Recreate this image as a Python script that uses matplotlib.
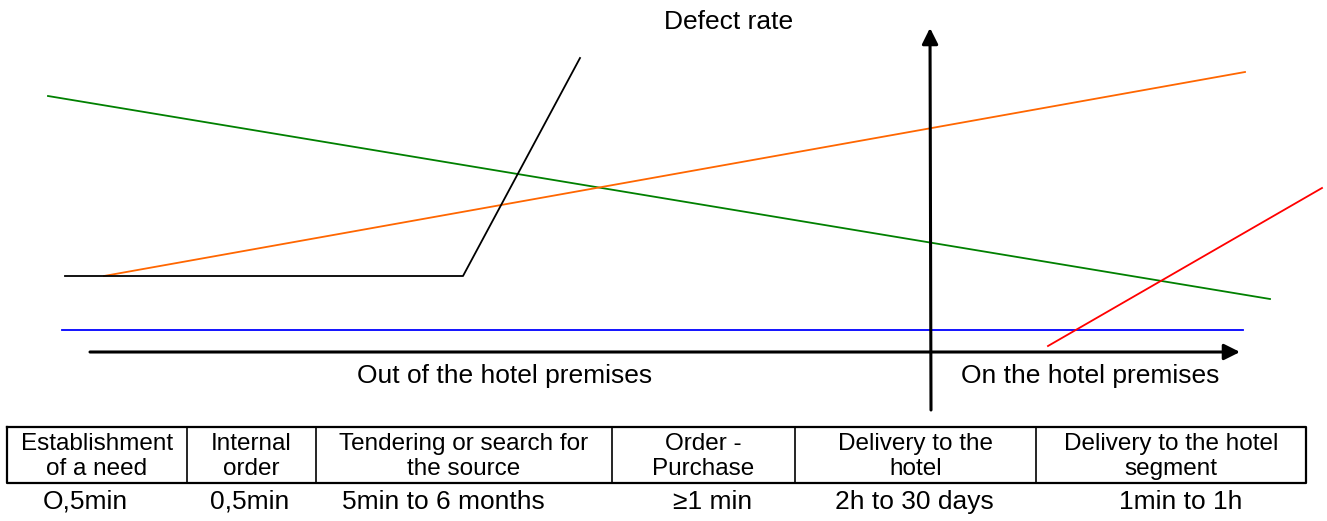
import matplotlib
matplotlib.use("Agg")
import matplotlib.pyplot as plt

plt.rcParams['font.family'] = ['Liberation Sans', 'DejaVu Sans']

# line endpoints in picture units (x right, y down)
green_x = [48, 1270]
green_y = [96, 299]
orange_x = [104, 1245]
orange_y = [276, 72]
black_x = [65, 463, 580]
black_y = [276, 276, 58]
blue_x = [62, 1243]
blue_y = [330, 330]
red_x = [1048, 1322]
red_y = [346, 188]

# table
col_edges = [7, 187, 316, 612, 795, 1036, 1306]
col_labels = ["Establishment\nof a need", "Internal\norder", "Tendering or search for\nthe source",
              "Order -\nPurchase", "Delivery to the\nhotel", "Delivery to the hotel\nsegment"]
durations = ["O,5min", "0,5min", "5min to 6 months", "\u22651 min", "2h to 30 days", "1min to 1h"]
duration_x = [85, 250, 443, 713, 914, 1181]

fig = plt.figure(figsize=(13.27, 5.21), dpi=100)
ax = fig.add_axes([0, 0, 1, 1])
ax.set_xlim(0, 1327)
ax.set_ylim(521, 0)
ax.axis('off')

ax.plot(green_x, green_y, color='#008000', lw=1.3)
ax.plot(orange_x, orange_y, color='#ff6600', lw=1.3)
ax.plot(black_x, black_y, color='black', lw=1.3)
ax.plot(blue_x, blue_y, color='#0000ff', lw=1.3)
ax.plot(red_x, red_y, color='#ff0000', lw=1.3)

# axes arrows
ax.annotate('', xy=(1240, 352), xytext=(90, 352),
            arrowprops=dict(arrowstyle='-|>', color='black', lw=2.2, mutation_scale=24,
                            shrinkA=0, shrinkB=0))
ax.annotate('', xy=(930, 28), xytext=(931, 410),
            arrowprops=dict(arrowstyle='-|>', color='black', lw=2.2, mutation_scale=24,
                            shrinkA=0, shrinkB=0))

ax.text(729, 22, "Defect rate", ha='center', va='center', fontsize=19)
ax.text(505, 376, "Out of the hotel premises", ha='center', va='center', fontsize=19)
ax.text(1090, 376, "On the hotel premises", ha='center', va='center', fontsize=19)

# table box
top, bottom = 427, 483
ax.plot([col_edges[0], col_edges[-1], col_edges[-1], col_edges[0], col_edges[0]],
        [top, top, bottom, bottom, top], color='black', lw=1.6)
for x in col_edges[1:-1]:
    ax.plot([x, x], [top, bottom], color='black', lw=1.2)
for i, lab in enumerate(col_labels):
    cx = (col_edges[i] + col_edges[i + 1]) / 2
    ax.text(cx, 456.5, lab, ha='center', va='center', fontsize=17.5, linespacing=1.2)
for d, dx in zip(durations, duration_x):
    ax.text(dx, 502, d, ha='center', va='center', fontsize=19)

fig.savefig("out.png", dpi=100)
